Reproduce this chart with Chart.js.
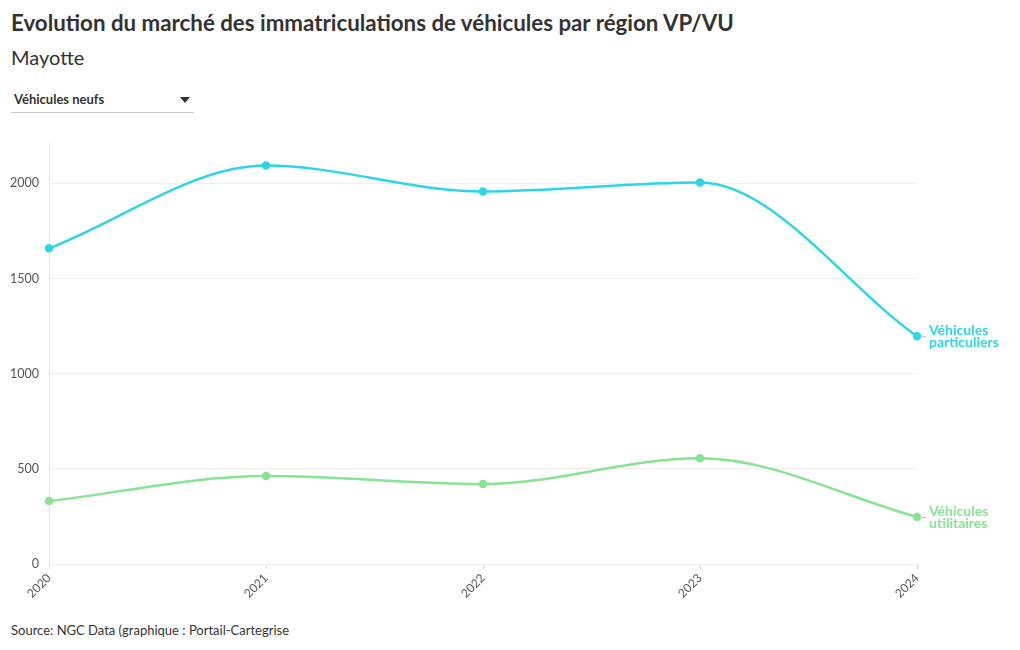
<!DOCTYPE html>
<html><head><meta charset="utf-8">
<script src="https://cdn.jsdelivr.net/npm/chart.js@4"></script>
<style>
body{margin:0;background:#fff;font-family:Lato,sans-serif;color:#333;}
#title{position:absolute;left:11px;top:9px;font:bold 22.3px Lato,sans-serif;color:#333;white-space:nowrap}
#sub{position:absolute;left:11px;top:45px;font:20px Lato,sans-serif;color:#333}
#dd{position:absolute;left:11px;top:88px;width:183px;height:24px;border-bottom:1px solid #ccc;font:bold 13px Lato,sans-serif;color:#333}
#dd span{position:absolute;left:3px;top:3px}
#dd i{position:absolute;right:4px;top:9px;width:0;height:0;border-left:5px solid transparent;border-right:5px solid transparent;border-top:6px solid #333}
#src{position:absolute;left:11px;top:622px;font:13px Lato,sans-serif;color:#333}
#wrap{position:absolute;left:0;top:126px;width:1020px;height:484px}
</style></head><body>
<div id="title">Evolution du marché des immatriculations de véhicules par région VP/VU</div>
<div id="sub">Mayotte</div>
<div id="dd"><span>Véhicules neufs</span><i></i></div>
<div id="wrap"><canvas id="c"></canvas></div>
<div id="src">Source: NGC Data (graphique : Portail-Cartegrise</div>
<script>
const years = ["2020","2021","2022","2023","2024"];
const vp = [1659, 2094, 1958, 2005, 1197];
const vu = [331, 462, 420, 556, 247];
const yTicks = [0, 500, 1000, 1500, 2000];
const seriesNames = [["Véhicules","particuliers"],["Véhicules","utilitaires"]];
const colors = ["#2dd6e2","#88e393"];

const endLabels = {
  id:'endLabels',
  afterDatasetsDraw(chart){
    const ctx = chart.ctx;
    chart.data.datasets.forEach((ds,i)=>{
      const meta = chart.getDatasetMeta(i);
      const pt = meta.data[meta.data.length-1];
      ctx.save();
      ctx.strokeStyle = '#bbb'; ctx.lineWidth=1;
      ctx.beginPath(); ctx.moveTo(pt.x+5,pt.y+0.5); ctx.lineTo(pt.x+9,pt.y+0.5); ctx.stroke();
      ctx.fillStyle = ds.borderColor;
      ctx.font = 'bold 14px Lato, sans-serif';
      ctx.textBaseline='middle';
      const lines = seriesNames[i];
      ctx.fillText(lines[0], pt.x+12, pt.y-6);
      ctx.fillText(lines[1], pt.x+12, pt.y+6);
      ctx.restore();
    });
  }
};

new Chart(document.getElementById('c'),{
  type:'line',
  data:{labels:years,datasets:[
    {label:seriesNames[0].join(' '),data:vp,borderColor:colors[0],backgroundColor:colors[0],borderWidth:2.5,pointRadius:3,pointHoverRadius:3,cubicInterpolationMode:'monotone'},
    {label:seriesNames[1].join(' '),data:vu,borderColor:colors[1],backgroundColor:colors[1],borderWidth:2.5,pointRadius:3,pointHoverRadius:3,cubicInterpolationMode:'monotone'}
  ]},
  options:{
    responsive:true,maintainAspectRatio:false,animation:false,
    layout:{padding:{top:9,right:103,left:0,bottom:0}},
    plugins:{legend:{display:false},tooltip:{enabled:false}},
    scales:{
      x:{offset:false,
        grid:{display:true,drawOnChartArea:false,tickLength:5,color:'#ddd'},
        border:{display:false},
        ticks:{maxRotation:45,minRotation:45,color:'#555',font:{family:'Lato',size:12},padding:2},
        afterFit(s){s.height=46;}
      },
      y:{min:0,max:2210,
        grid:{color:'#eee',drawTicks:false},
        border:{display:true,color:'#e6e6e6'},
        ticks:{color:'#555',font:{family:'Lato',size:12.5},padding:10,autoSkip:false,callback:(v)=>String(v)},
        afterBuildTicks(s){s.ticks = yTicks.map(v=>({value:v}));},
        afterFit(s){s.width=49;}
      }
    }
  },
  plugins:[endLabels]
});
</script>
</body></html>
